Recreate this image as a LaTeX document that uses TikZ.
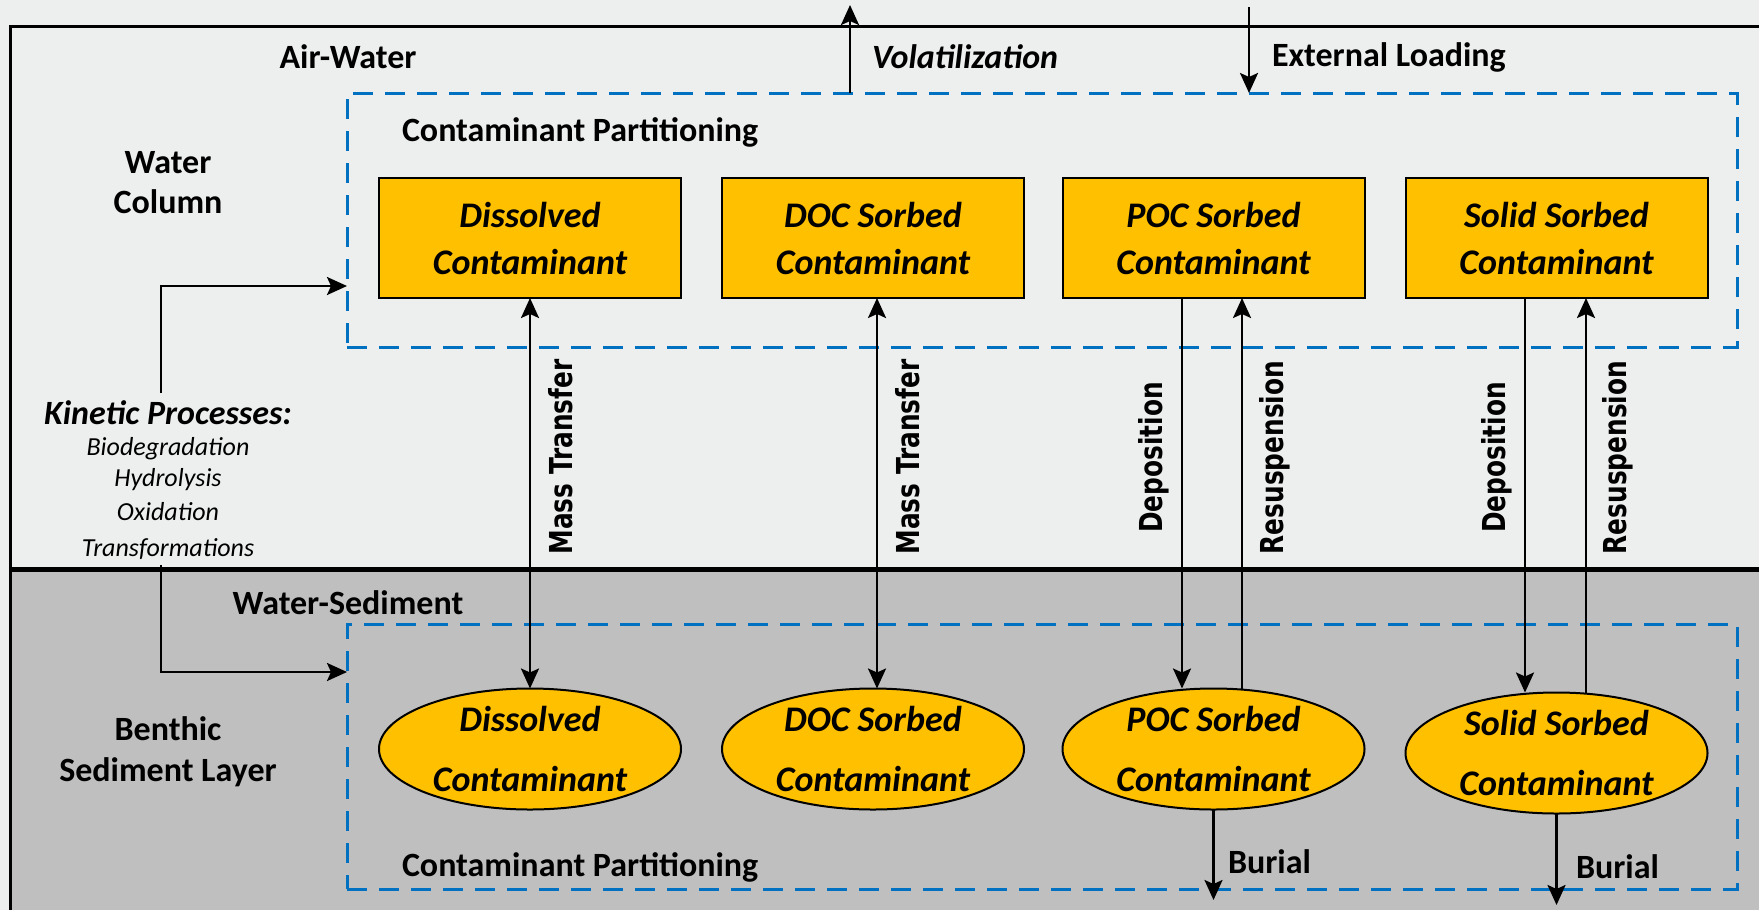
\documentclass[tikz,border=0pt]{standalone}
\usepackage{fontspec}
\usepackage{graphicx}
\setmainfont{Carlito}
\newfontfamily\rotfont{DejaVu Sans}
\usetikzlibrary{arrows.meta,fit,shapes.geometric}
\definecolor{amber}{HTML}{FFC000}
\definecolor{partblue}{HTML}{0070C0}
\definecolor{waterbg}{HTML}{EDEFEE}
\definecolor{sedbg}{HTML}{BFBFBF}
% rate labels are set in a horizontally narrowed bold sans
\newcommand{\ratetext}[1]{\scalebox{0.785}[1]{#1}}
\begin{document}
\begin{tikzpicture}[x=0.5pt,y=-0.5pt,
  every node/.style={inner sep=0pt, outer sep=0pt},
  >={Stealth[length=10pt,width=9pt,inset=2pt]},
  flow/.style={line width=1.25pt},
  species/.style={draw=black, line width=1pt, fill=amber,
    minimum width=151pt, minimum height=60pt, align=center,
    font=\fontsize{18}{23.5}\selectfont\bfseries\itshape},
  benthic/.style={ellipse, draw=black, line width=1pt, fill=amber,
    minimum width=151pt, minimum height=60.5pt},
  benthictext/.style={align=center,
    font=\fontsize{18}{30}\selectfont\bfseries\itshape},
  partition/.style={draw=partblue, line width=1.5pt,
    dash pattern=on 10pt off 6pt},
  zone/.style={align=center, font=\fontsize{17}{20}\selectfont\bfseries},
  process/.style={font=\fontsize{13}{15}\selectfont\itshape},
  ratelabel/.style={rotate=90, font=\fontsize{15.8}{18}\selectfont\rotfont\bfseries},
]
\useasboundingbox (0,0) rectangle (1759,910);
\clip (0,0) rectangle (1759,910);

% backgrounds of the two compartments
\fill[waterbg] (0,0) rectangle (1759,910);
\fill[sedbg] (10,569) rectangle (1759,910);

% system border and water/sediment interface
\draw[line width=1.5pt] (1759,26) -- (10,26) -- (10,910);
\draw[line width=2.5pt] (10,569) -- (1759,569);

% partitioning frames
\node[partition, fit={(347,93)(1737,347)}] (up) {};
\node[partition, fit={(347,624)(1737,889)}] (low) {};

% compartment labels
\node[zone] (airwater) at (348,57) {Air-Water};
\node[zone, anchor=west, font=\fontsize{17}{20}\selectfont\bfseries\itshape] (volat) at (872,57) {Volatilization};
\node[zone, anchor=west] (extload) at (1272,57) {External Loading};
\node[zone, anchor=west] (uppart) at (402,132) {Contaminant Partitioning};
\node[zone] (watercol) at (168,183) {Water\\Column};
\node[zone] (watersed) at (348,603) {Water-Sediment};
\node[zone, font=\fontsize{17}{20.5}\selectfont\bfseries] (sedlayer) at (168,751.5) {Benthic\\Sediment Layer};
\node[zone, anchor=west] (lowpart) at (402,867) {Contaminant Partitioning};

% kinetic processes
\node[zone, font=\fontsize{17}{20}\selectfont\bfseries\itshape] (kp) at (168,413) {Kinetic Processes:};
\node[process] (kp1) at (168,449) {Biodegradation};
\node[process] (kp2) at (168,480) {Hydrolysis};
\node[process] (kp3) at (168,512) {Oxidation};
\node[process] (kp4) at (168,549) {Transformations};
\node[fit={(161,393)(161,565)}] (kin) {};

% water column species
\node[species] (r1) at (530,238) {Dissolved\\Contaminant};
\node[species] (r2) at (873,238) {DOC Sorbed\\Contaminant};
\node[species] (r3) at (1213.5,238) {POC Sorbed\\Contaminant};
\node[species] (r4) at (1556.5,238) {Solid Sorbed\\Contaminant};

% benthic species
\node[benthic] (e1) at (530,749) {};
\node[benthic] (e2) at (873,749) {};
\node[benthic] (e3) at (1213.5,749) {};
\node[benthic] (e4) at (1556.5,753) {};
\node[benthictext] (e1t) at (e1) {Dissolved\\Contaminant};
\node[benthictext] (e2t) at (e2) {DOC Sorbed\\Contaminant};
\node[benthictext] (e3t) at (e3) {POC Sorbed\\Contaminant};
\node[benthictext] (e4t) at (e4) {Solid Sorbed\\Contaminant};

% exchange with the atmosphere and external sources
\coordinate (vol) at (850,5);
\coordinate (ext) at (1249,7);
\draw[flow,->] (vol |- up.north) -- (vol);
\draw[flow,->] (ext) -- (ext |- up.north);

% kinetic processes act on both compartments
\coordinate (k1) at (161,286);
\coordinate (k2) at (161,672);
\draw[flow,->] (kin.north) -- (k1) -- (k1 -| up.west);
\draw[flow,->] (kin.south) -- (k2) -- (k2 -| low.west);

% water column <-> sediment exchange
\draw[flow,<->] (r1.south) -- (e1.north);
\draw[flow,<->] ([xshift=2pt]r2.south) -- ([xshift=2pt]e2.north);
\draw[flow,->] ([xshift=-15.75pt]r3.south) -- ([xshift=-15.75pt]r3.south |- e3.north);
\draw[flow,->] ([xshift=14.25pt]r3.south |- e3.north) -- ([xshift=14.25pt]r3.south);
\draw[flow,->] ([xshift=-15.75pt]r4.south) -- ([xshift=-15.75pt]r4.south |- e4.north);
\draw[flow,->] ([xshift=14.75pt]r4.south |- e4.north) -- ([xshift=14.75pt]r4.south);

\node[ratelabel] (mt1) at (561,457) {\ratetext{Mass Transfer}};
\node[ratelabel] (mt2) at (908,457) {\ratetext{Mass Transfer}};
\node[ratelabel] (dep3) at (1154,457.5) {\ratetext{Deposition}};
\node[ratelabel] (res3) at (1275,457.5) {\ratetext{Resuspension}};
\node[ratelabel] (dep4) at (1497,457.5) {\ratetext{Deposition}};
\node[ratelabel] (res4) at (1618,457.5) {\ratetext{Resuspension}};

% burial out of the active sediment layer
\coordinate (bur3) at (1213.5,900);
\coordinate (bur4) at (1556.5,905);
\draw[flow,->] (e3.south) -- (bur3);
\draw[flow,->] (e4.south) -- (bur4);
\node[zone, anchor=west] (bl3) at (1228,862) {Burial};
\node[zone, anchor=west] (bl4) at (1576,867) {Burial};
\end{tikzpicture}
\end{document}
